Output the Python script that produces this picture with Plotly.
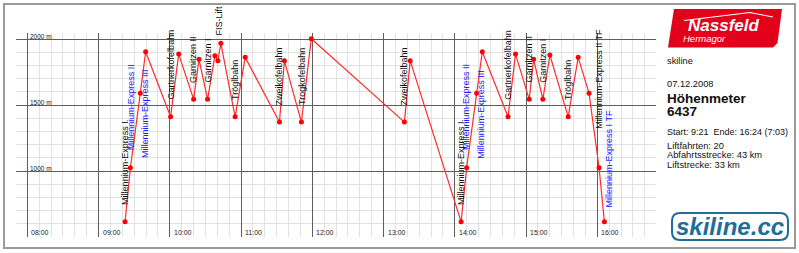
import plotly.graph_objects as go

# ---------------- data ----------------
DAY = "2008-12-07"
times = ["09:22:20", "09:26:50", "09:35:10", "09:39:40", "10:00:40", "10:07:30",
         "10:20:05", "10:24:35", "10:31:50", "10:38:00", "10:40:30", "10:43:00",
         "10:55:00", "11:03:30", "11:32:20", "11:36:30", "11:50:50", "11:59:10",
         "13:17:35", "13:22:25", "14:05:20", "14:10:00", "14:18:25", "14:23:10",
         "14:44:50", "14:51:10", "15:02:40", "15:06:25", "15:14:10", "15:20:05",
         "15:35:30", "15:43:55", "15:53:05", "16:01:30", "16:06:00"]
alts = [616, 1025, 1589, 1904, 1411, 1886, 1543, 1846, 1543, 1874, 1836, 1967,
        1411, 1861, 1371, 1836, 1371, 2002, 1371, 1836, 616, 1025, 1589, 1904,
        1411, 1886, 1543, 1846, 1543, 1879, 1411, 1861, 1589, 1025, 616]

lift_names = ["Millennium-Express I", "Millennium-Express II", "Millennium-Express III",
              "Gartnerkofelbahn", "Garnitzen II", "Garnitzen I", "FIS-Lift", "Tröglbahn",
              "Zweikofelbahn", "Trogkofelbahn", "Zweikofelbahn",
              "Millennium-Express I", "Millennium-Express II", "Millennium-Express III",
              "Gartnerkofelbahn", "Garnitzen II", "Garnitzen I", "Tröglbahn",
              "Millennium-Express II TF", "Millennium-Express I TF"]
lift_point = [0, 1, 2, 4, 6, 8, 10, 12, 14, 16, 18, 20, 21, 22, 24, 26, 28, 30, 33, 34]

hour_labels = ["08:00", "09:00", "10:00", "11:00", "12:00", "13:00", "14:00", "15:00", "16:00"]
alt_ticks = [1000, 1500, 2000]

info_site = "skiline"
info_date = "07.12.2008"
info_title = "Höhenmeter"
info_value = "6437"
info_lines = ["Start: 9:21  Ende: 16:24 (7:03)", "Liftfahrten: 20",
              "Abfahrtsstrecke: 43 km", "Liftstrecke: 33 km"]

# ---------------- style ----------------
label_blue = [False, True, True, False, False, False, False, False, False, False, False,
              False, True, True, False, False, False, False, False, True]
label_dx = [0, 0.5, 4, 0, 0, 0, 1, 0, 0, 0, 0, 0, 0, 4.7, 0, 0, 0, 0, 0, 4.7]
label_dy = [16, 16.5, -66, 16, 15.5, 15.5, 24, 16, 16, 16, 16, 16, 16.5, -66.5, 16, 15.5,
            15.5, 16, 38, 13]

W, H = 799, 253
L, R, T, B = 16, 656, 33, 237
FONT = "Liberation Sans, Arial, sans-serif"


def px(x):
    return (x - L) / (R - L)


def py(y):
    return (B - y) / (B - T)


xs = [f"{DAY} {t}" for t in times]

fig = go.Figure()
fig.add_trace(go.Scatter(
    x=xs, y=alts, mode="lines+markers",
    line=dict(color="#ff2a2a", width=1.2),
    marker=dict(color="#ff0000", size=5),
    hoverinfo="skip", showlegend=False))

ann = []
for i, name in enumerate(lift_names):
    k = lift_point[i]
    ann.append(dict(x=xs[k], y=alts[k], xref="x", yref="y", text=name, showarrow=False,
                    textangle=-90, xanchor="center", yanchor="bottom",
                    xshift=label_dx[i], yshift=label_dy[i], borderpad=0,
                    font=dict(family=FONT, size=9,
                              color="#1a1aff" if label_blue[i] else "#111111")))

for h in hour_labels:
    ann.append(dict(x=f"{DAY} {h}", y=0, xref="x", yref="paper", text=h, showarrow=False,
                    xanchor="left", yanchor="middle", xshift=3, yshift=5, borderpad=0,
                    font=dict(family=FONT, size=7, color="#222222")))

for v in alt_ticks:
    ann.append(dict(x=f"{DAY} 08:00", y=v, xref="x", yref="y", text=f"{v} m", showarrow=False,
                    xanchor="left", yanchor="middle", xshift=1.5, yshift=3, borderpad=0,
                    font=dict(family=FONT, size=6.5, color="#222222")))


# right panel text
def side(text, ypix, size=9.3, bold=False):
    ann.append(dict(x=px(666), y=py(ypix), xref="paper", yref="paper",
                    text=f"<b>{text}</b>" if bold else text, showarrow=False,
                    xanchor="left", yanchor="middle", borderpad=0,
                    font=dict(family=FONT, size=size, color="#111111")))


side(info_site, 61)
side(info_date, 84)
side(info_title, 99, size=13.5, bold=True)
side(info_value, 112, size=13.5, bold=True)
side(info_lines[0], 132, size=9)
for t, yy in zip(info_lines[1:], [146, 155.3, 164.5]):
    side(t, yy)

# logos text
ann.append(dict(x=px(723), y=py(26), xref="paper", yref="paper", text="<b><i>Nassfeld</i></b>",
                showarrow=False, xanchor="center", yanchor="middle", borderpad=0,
                font=dict(family=FONT, size=17, color="white")))
ann.append(dict(x=px(682), y=py(38.5), xref="paper", yref="paper", text="<i>Hermagor</i>",
                showarrow=False, xanchor="left", yanchor="middle", borderpad=0,
                font=dict(family=FONT, size=9.5, color="white")))
ann.append(dict(x=px(730), y=py(226.5), xref="paper", yref="paper", text="<b><i>skiline.cc</i></b>",
                showarrow=False, xanchor="center", yanchor="middle", borderpad=0,
                font=dict(family=FONT, size=24, color="#1f6e97")))


def path(points, close=True):
    s = "M " + " L ".join(f"{px(a):.5f},{py(b):.5f}" for a, b in points)
    return s + (" Z" if close else "")


def rounded(x0, y0, x1, y1, r):
    p = lambda a, b: f"{px(a):.5f},{py(b):.5f}"
    return (f"M {p(x0 + r, y0)} L {p(x1 - r, y0)} Q {p(x1, y0)} {p(x1, y0 + r)} "
            f"L {p(x1, y1 - r)} Q {p(x1, y1)} {p(x1 - r, y1)} L {p(x0 + r, y1)} "
            f"Q {p(x0, y1)} {p(x0, y1 - r)} L {p(x0, y0 + r)} Q {p(x0, y0)} {p(x0 + r, y0)} Z")


shapes = [
    dict(type="rect", xref="paper", yref="paper", x0=px(4), x1=px(795), y0=py(248), y1=py(4),
         line=dict(color="#9a9a9a", width=2), layer="above"),
    dict(type="path", xref="paper", yref="paper",
         path=path([(674, 9), (782, 9), (777.5, 43), (773, 47.5), (668, 47.5)]),
         fillcolor="#e2001a", line=dict(width=0), layer="below"),
    dict(type="path", xref="paper", yref="paper",
         path=path([(684, 20.5), (750, 12.5), (773, 17)], close=False),
         line=dict(color="white", width=1.2), layer="above"),
    dict(type="path", xref="paper", yref="paper", path=rounded(672, 213, 788, 240, 8),
         line=dict(color="#1f6e97", width=2), layer="above"),
]

fig.update_layout(
    width=W, height=H, autosize=False,
    margin=dict(l=L, r=W - R, t=T, b=H - B, pad=0),
    paper_bgcolor="white", plot_bgcolor="white",
    annotations=ann, shapes=shapes, showlegend=False,
    xaxis=dict(type="date", range=[f"{DAY} 07:50:29", f"{DAY} 16:49:27"],
               tick0=f"{DAY} 08:00", dtick=3600000, showgrid=True, gridcolor="#5e5e5e",
               gridwidth=1, showticklabels=False, ticks="", zeroline=False, showline=False,
               minor=dict(dtick=600000, showgrid=True, gridcolor="#e2e2e2", gridwidth=1)),
    yaxis=dict(range=[501, 2045.5], tick0=0, dtick=500, showgrid=True, gridcolor="#5e5e5e",
               gridwidth=1, showticklabels=False, ticks="", zeroline=False, showline=False,
               minor=dict(dtick=100, showgrid=True, gridcolor="#e2e2e2", gridwidth=1)),
)

fig.write_html("out.html", config={"displayModeBar": False})
